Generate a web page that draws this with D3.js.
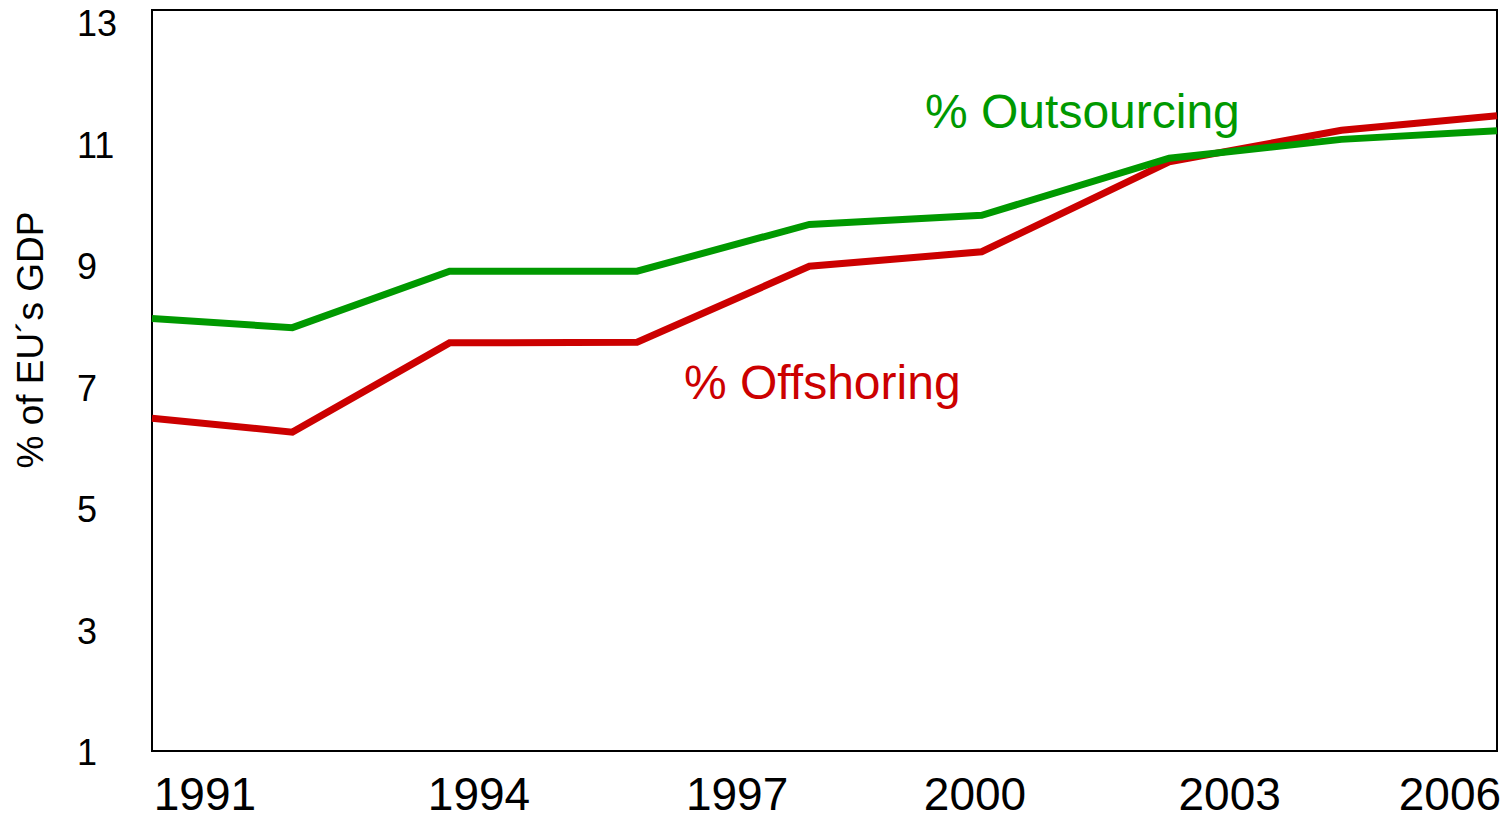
<!DOCTYPE html>
<html>
<head>
<meta charset="utf-8">
<script src="https://cdn.jsdelivr.net/npm/d3@7"></script>
<style>
  html, body { margin: 0; padding: 0; background: #fff; }
  svg { display: block; font-family: "Liberation Sans", Arial, sans-serif; }
</style>
</head>
<body>
<svg id="chart" width="1508" height="815"></svg>
<script>
// ---- data ----
// x positions of the observations, in (fractional) years as placed on the original chart
const pointYears = [1990.5, 1992.17, 1994.04, 1996.27, 1998.32, 2000.37, 2002.6, 2004.65, 2006.5];
const outsourcing = [8.12, 7.97, 8.90, 8.90, 9.67, 9.82, 10.76, 11.07, 11.21];
const offshoring  = [6.48, 6.25, 7.72, 7.73, 8.98, 9.22, 10.70, 11.22, 11.46];
const xTickLabels = ["1991", "1994", "1997", "2000", "2003", "2006"];
const xTickYears  = [1991.13, 1994.39, 1997.46, 2000.29, 2003.32, 2005.94];
const yTicks = [1, 3, 5, 7, 9, 11, 13];
const yTitle = "% of EU\u00b4s GDP";
const seriesNames = ["% Outsourcing", "% Offshoring"];

// ---- layout ----
const svg = d3.select("#chart");
const plot = { left: 152, right: 1497, top: 10, bottom: 751 };

const x = d3.scaleLinear().domain([1990.5, 2006.5]).range([plot.left, plot.right]);
const y = d3.scaleLinear().domain([1, 13.2]).range([plot.bottom, plot.top]);

// frame
svg.append("rect")
  .attr("x", plot.left).attr("y", plot.top)
  .attr("width", plot.right - plot.left).attr("height", plot.bottom - plot.top)
  .attr("fill", "none").attr("stroke", "#000").attr("stroke-width", 2);

// y tick labels
svg.append("g").selectAll("text").data(yTicks).join("text")
  .attr("x", 77)
  .attr("y", d => y(d) + 14)
  .attr("font-size", 36)
  .attr("fill", "#000")
  .text(d => d);

// x tick labels
svg.append("g").selectAll("text").data(xTickYears).join("text")
  .attr("x", d => x(d))
  .attr("y", 810)
  .attr("text-anchor", "middle")
  .attr("font-size", 46)
  .attr("fill", "#000")
  .text((d, i) => xTickLabels[i]);

// y title
svg.append("text")
  .attr("transform", "translate(43,340) rotate(-90)")
  .attr("text-anchor", "middle")
  .attr("font-size", 37)
  .attr("fill", "#000")
  .text(yTitle);

// lines
const line = d3.line().x(d => x(d[0])).y(d => y(d[1]));
const series = [
  { name: seriesNames[0], values: outsourcing, color: "#009900" },
  { name: seriesNames[1], values: offshoring, color: "#cc0000" }
];
// draw offshoring first, outsourcing on top where they overlap at the crossing
svg.append("path")
  .datum(pointYears.map((yr, i) => [yr, offshoring[i]]))
  .attr("d", line).attr("fill", "none")
  .attr("stroke", series[1].color).attr("stroke-width", 7).attr("stroke-linejoin", "miter");
svg.append("path")
  .datum(pointYears.map((yr, i) => [yr, outsourcing[i]]))
  .attr("d", line).attr("fill", "none")
  .attr("stroke", series[0].color).attr("stroke-width", 7).attr("stroke-linejoin", "miter");

// annotations
svg.append("text")
  .attr("x", 925).attr("y", 128)
  .attr("font-size", 48).attr("fill", series[0].color)
  .text(series[0].name);
svg.append("text")
  .attr("x", 684).attr("y", 399)
  .attr("font-size", 48).attr("fill", series[1].color)
  .text(series[1].name);
</script>
</body>
</html>
